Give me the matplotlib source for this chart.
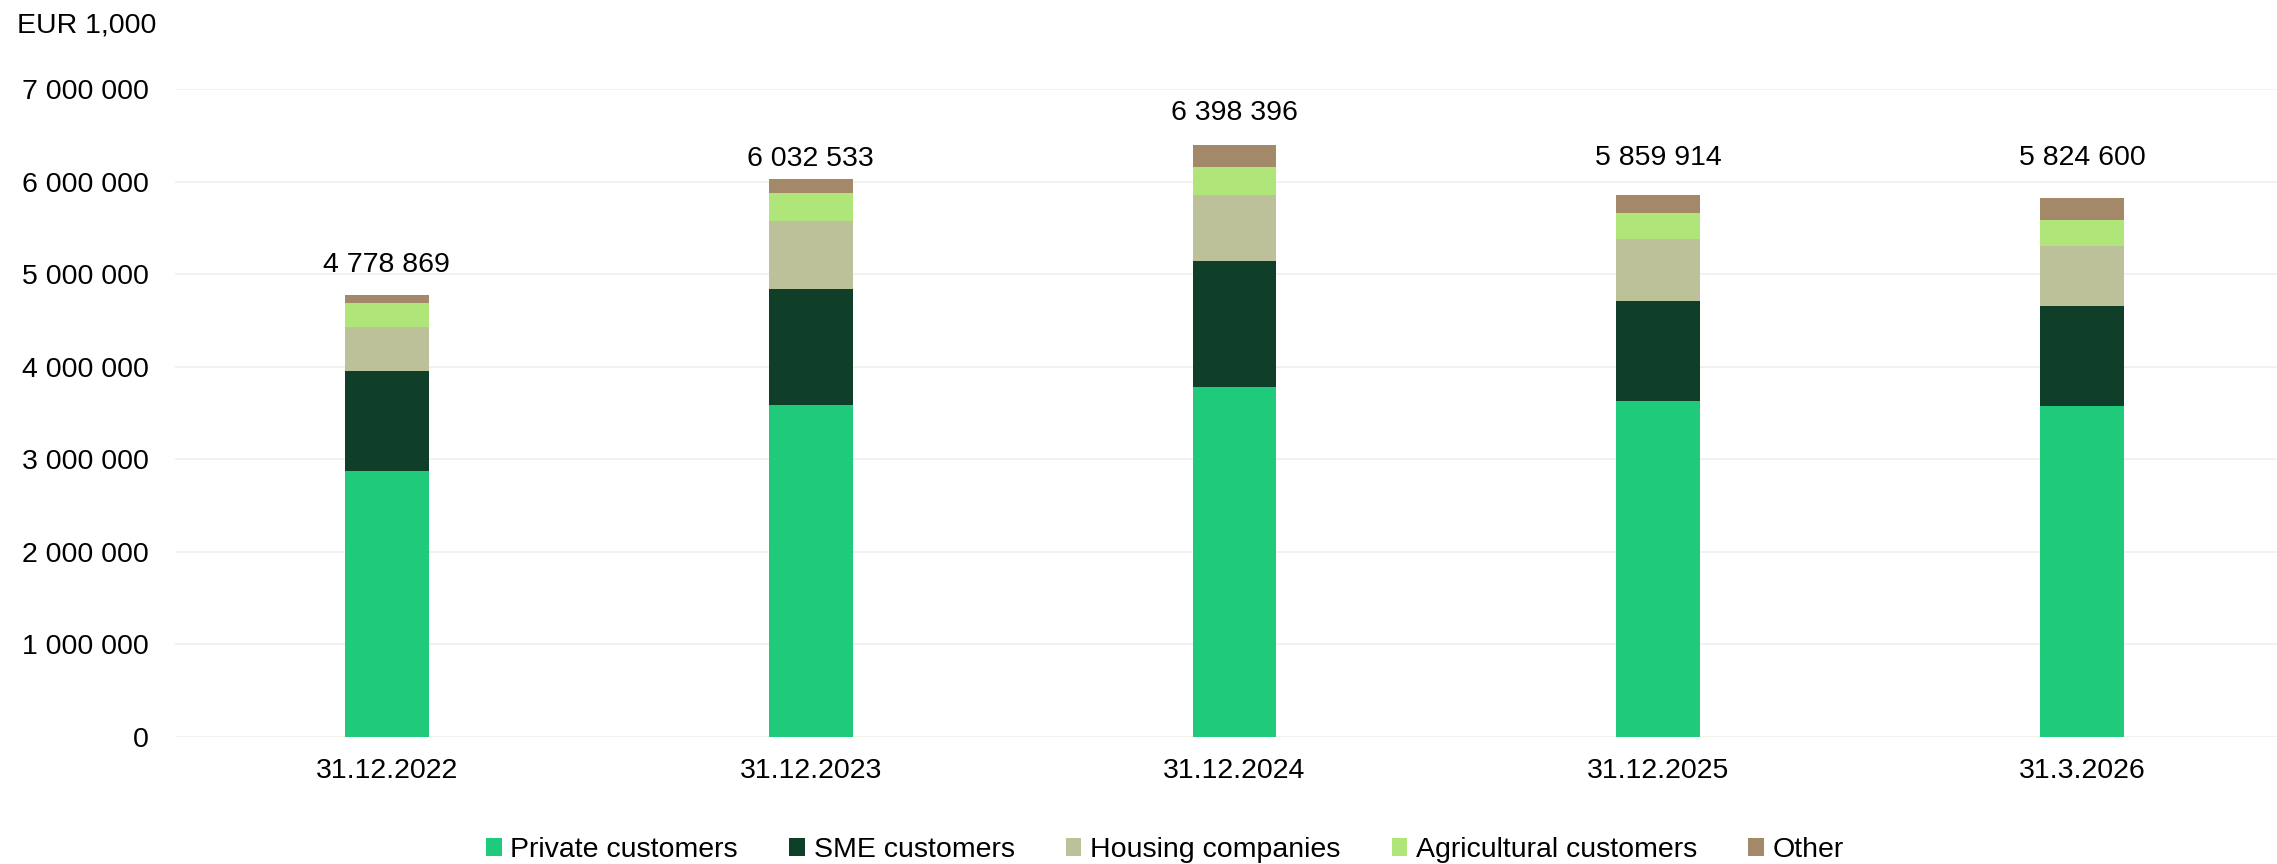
import numpy as np
import matplotlib
matplotlib.use("Agg")
import matplotlib.pyplot as plt

plt.rcParams['font.family'] = ['Liberation Sans', 'DejaVu Sans']

dates = ["31.12.2022", "31.12.2023", "31.12.2024", "31.12.2025", "31.3.2026"]
private = [2870000, 3585000, 3780000, 3630000, 3578000]
sme = [1080000, 1255000, 1362000, 1082000, 1080000]
housing = [475000, 735000, 714000, 672000, 648000]
agri = [260000, 303000, 304000, 281000, 281000]
other = [93869, 154533, 238396, 194914, 237600]
totals = [4778869, 6032533, 6398396, 5859914, 5824600]

series = [
    ("Private customers", private, "#1fcb7b"),
    ("SME customers", sme, "#0f3f28"),
    ("Housing companies", housing, "#bcc19a"),
    ("Agricultural customers", agri, "#b0e57a"),
    ("Other", other, "#a3886a"),
]

# label distance above each bar (points)
label_offsets = [21.5, 14, 23, 26.5, 29]

fig = plt.figure(figsize=(22.77, 8.64), dpi=100)
ax = fig.add_axes([175 / 2277, 1 - 737 / 864, 1 - 175 / 2277, (737 - 89) / 864])

x = np.arange(len(dates))
bottom = np.zeros(len(dates))
handles = []
for name, vals, color in series:
    b = ax.bar(x, vals, 0.198, bottom=bottom, color=color, label=name, zorder=3)
    handles.append(b)
    bottom += np.array(vals)

for i, t in enumerate(totals):
    ax.annotate(f"{t:,}".replace(",", " "), (x[i], bottom[i]),
                xytext=(0, label_offsets[i]), textcoords="offset points",
                ha="center", va="center", fontsize=20.5)

ax.set_xlim(-0.5, (2277 - 386) / 424)
ax.set_ylim(0, 7000000)
ax.set_yticks(np.arange(0, 7000001, 1000000))
ax.set_yticklabels([f"{v:,}".replace(",", " ") for v in range(0, 7000001, 1000000)])
ax.set_xticks(x)
ax.set_xticklabels(dates)
ax.tick_params(axis="y", length=0, pad=19, labelsize=20.5)
ax.tick_params(axis="x", length=0, pad=15, labelsize=20.5)
ax.grid(axis="y", color="#f0efe8", linewidth=1.2, zorder=0)
for s in ax.spines.values():
    s.set_visible(False)

fig.text(17 / 2277, 1 - 25 / 864, "EUR 1,000", fontsize=20.5, va="center", ha="left")

fig.legend(handles=handles, loc="center", bbox_to_anchor=(1165 / 2277, 1 - 850 / 864),
           ncol=5, frameon=False, fontsize=20.5, handlelength=0.55, handleheight=0.55,
           handletextpad=0.3, columnspacing=1.8)

fig.savefig("out.png", dpi=100)
